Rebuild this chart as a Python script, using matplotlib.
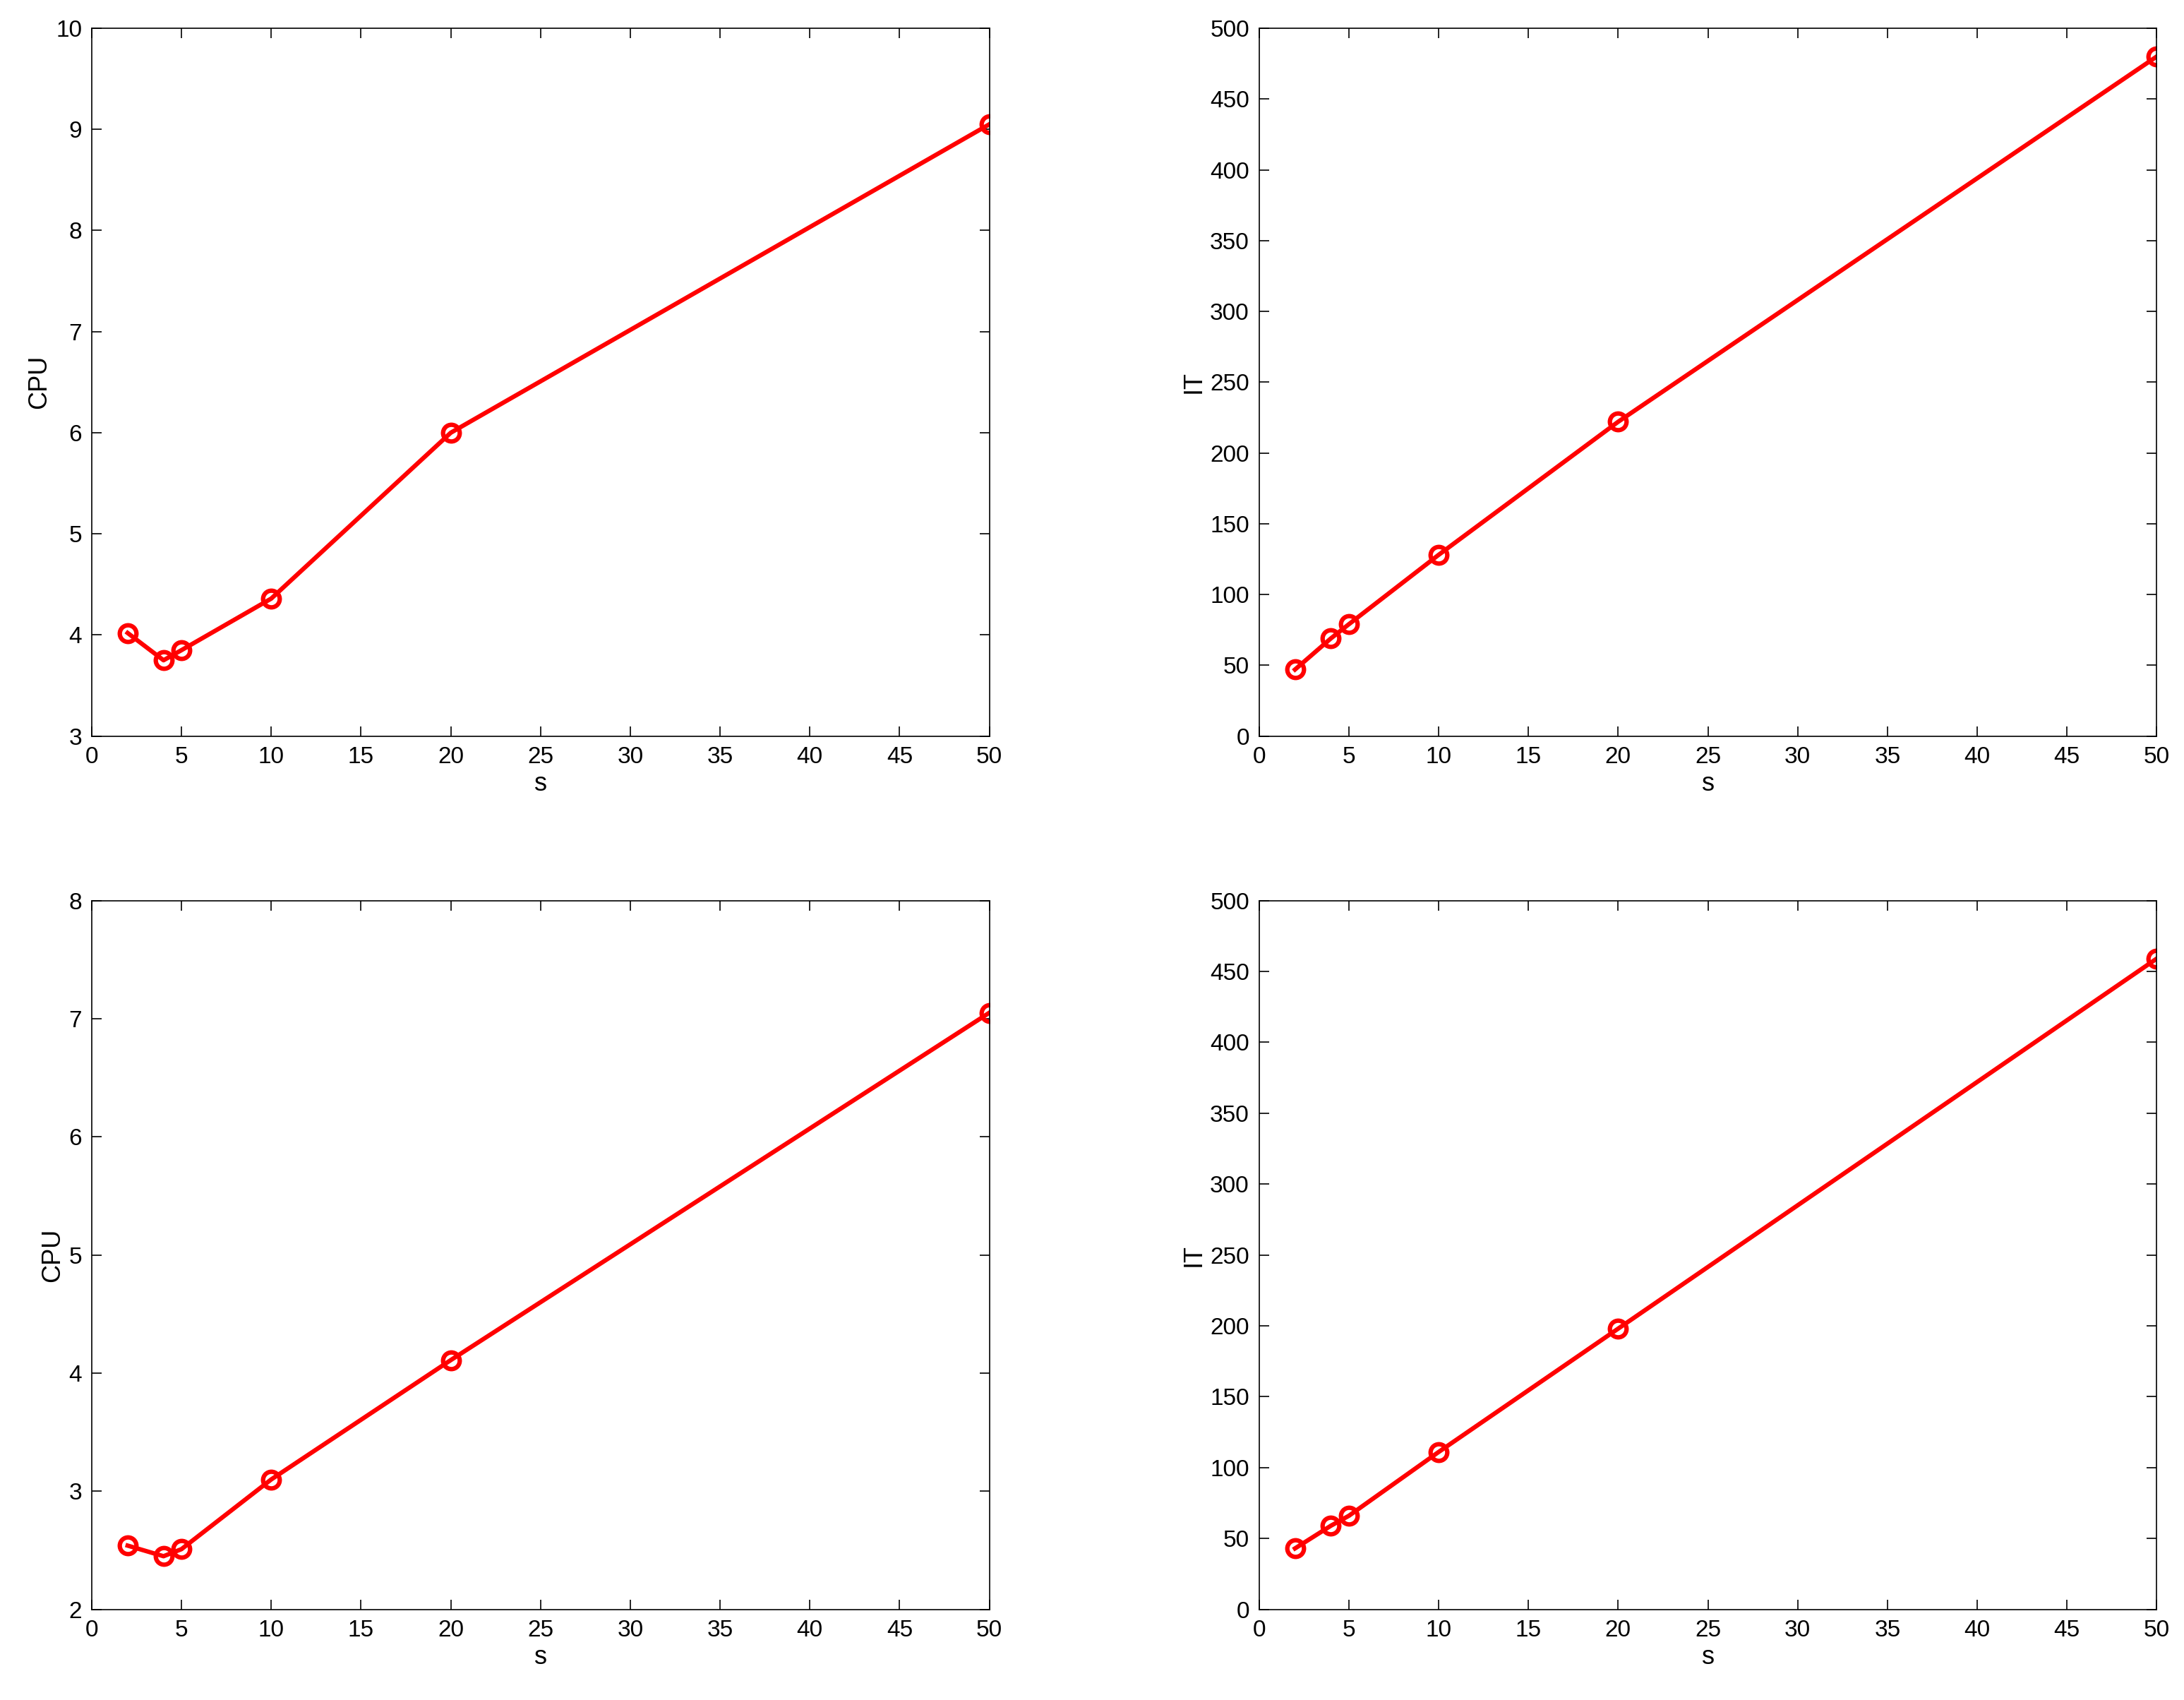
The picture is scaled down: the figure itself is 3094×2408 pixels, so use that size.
import matplotlib
matplotlib.use("Agg")
import matplotlib.pyplot as plt

s = [2, 4, 5, 10, 20, 50]
cpu_top = [4.02, 3.75, 3.85, 4.36, 6.0, 9.05]
it_top = [47, 69, 79, 128, 222, 480]
cpu_bot = [2.54, 2.45, 2.51, 3.10, 4.11, 7.05]
it_bot = [43, 59, 66, 111, 198, 459]

plt.rcParams['font.family'] = ['Liberation Sans', 'DejaVu Sans']
fig = plt.figure(figsize=(30.94, 24.08), dpi=100)

specs = [
    ([0.042, 0.567, 0.411, 0.4164], cpu_top, "CPU", (3, 10), range(3, 11)),
    ([0.5765, 0.567, 0.411, 0.4164], it_top, "IT", (0, 500), range(0, 501, 50)),
    ([0.042, 0.0533, 0.411, 0.417], cpu_bot, "CPU", (2, 8), range(2, 9)),
    ([0.5765, 0.0533, 0.411, 0.417], it_bot, "IT", (0, 500), range(0, 501, 50)),
]
for rect, y, yl, ylim, yt in specs:
    ax = fig.add_axes(rect)
    ax.plot(s, y, color='red', lw=4.5, marker='o', ms=17, mfc='none', mec='red', mew=4.5)
    ax.set_xlim(0, 50)
    ax.set_ylim(*ylim)
    ax.set_xticks(range(0, 51, 5))
    ax.set_yticks(list(yt))
    ax.tick_params(direction='in', top=True, right=True, labelsize=24, length=10, width=1.2, pad=10)
    for sp in ax.spines.values():
        sp.set_linewidth(1.2)
    ax.set_xlabel("s", fontsize=26)
    ax.set_ylabel(yl, fontsize=26)

fig.savefig("out.png", dpi=100)
